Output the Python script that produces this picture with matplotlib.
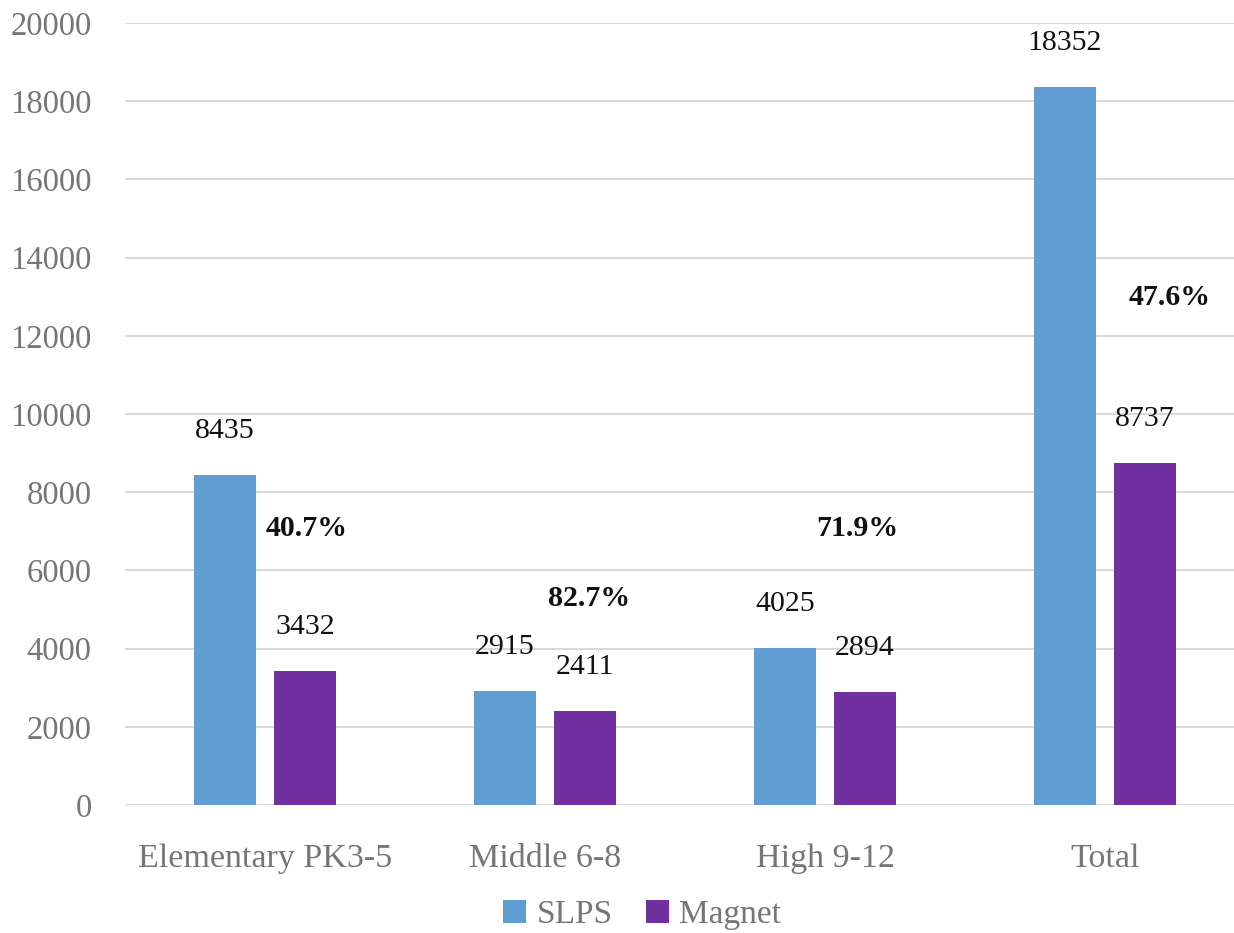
"""
Grouped bar chart: SLPS vs Magnet enrolment by school level, with Magnet share.
"""

import matplotlib.pyplot as plt
import numpy as np

categories = ["Elementary PK3-5", "Middle 6-8", "High 9-12", "Total"]
slps = [8435, 2915, 4025, 18352]
magnet = [3432, 2411, 2894, 8737]
share_labels = ["40.7%", "82.7%", "71.9%", "47.6%"]
# where the share labels sit (category offset, y value)
share_dx = [0.15, 0.157, 0.114, 0.232]
share_y = [7084, 5294, 7084, 12967]

SLPS_COLOR = "#5F9DD2"
MAGNET_COLOR = "#7030A0"
TICK_COLOR = "#767676"
FONT = ["Liberation Serif", "DejaVu Serif"]

plt.rcParams["font.family"] = FONT

fig = plt.figure(figsize=(12.34, 9.33), dpi=100)
ax = fig.add_axes([125 / 1234, (933 - 805) / 933, 1120 / 1234, 782 / 933])

x = np.arange(len(categories))
off = 40 / 280
w = 62 / 280
b1 = ax.bar(x - off, slps, w, color=SLPS_COLOR, label="SLPS", zorder=2)
b2 = ax.bar(x + off, magnet, w, color=MAGNET_COLOR, label="Magnet", zorder=2)

for rects, vals in ((b1, slps), (b2, magnet)):
    for r, v in zip(rects, vals):
        ax.annotate(f"{v}", (r.get_x() + r.get_width() / 2, v),
                    xytext=(0, 31), textcoords="offset pixels",
                    ha="center", va="bottom", fontsize=21.5, color="#111111")

for i, (lab, dx, y) in enumerate(zip(share_labels, share_dx, share_y)):
    ax.text(i + dx, y, lab, ha="center", va="center", fontsize=21.5,
            fontweight="bold", color="#111111")

ax.set_xlim(-0.5, 3.5)
ax.set_ylim(0, 20000)
ax.set_yticks(np.arange(0, 20001, 2000))
ax.set_xticks(x)
ax.set_xticklabels(categories)
ax.tick_params(axis="both", length=0, colors=TICK_COLOR)
ax.tick_params(axis="x", pad=28, labelsize=24.5)
ax.tick_params(axis="y", pad=24, labelsize=23.5)
ax.grid(axis="y", color="#D9D9D9", lw=1.5, zorder=0)
for s in ax.spines.values():
    s.set_visible(False)

ax.legend(loc="center", bbox_to_anchor=(642 / 1234, (933 - 915) / 933),
          bbox_transform=fig.transFigure, ncol=2, frameon=False,
          fontsize=24, labelcolor=TICK_COLOR, handlelength=0.7,
          handleheight=0.7, handletextpad=0.3, columnspacing=1.0)

fig.savefig("out.png", dpi=100)
